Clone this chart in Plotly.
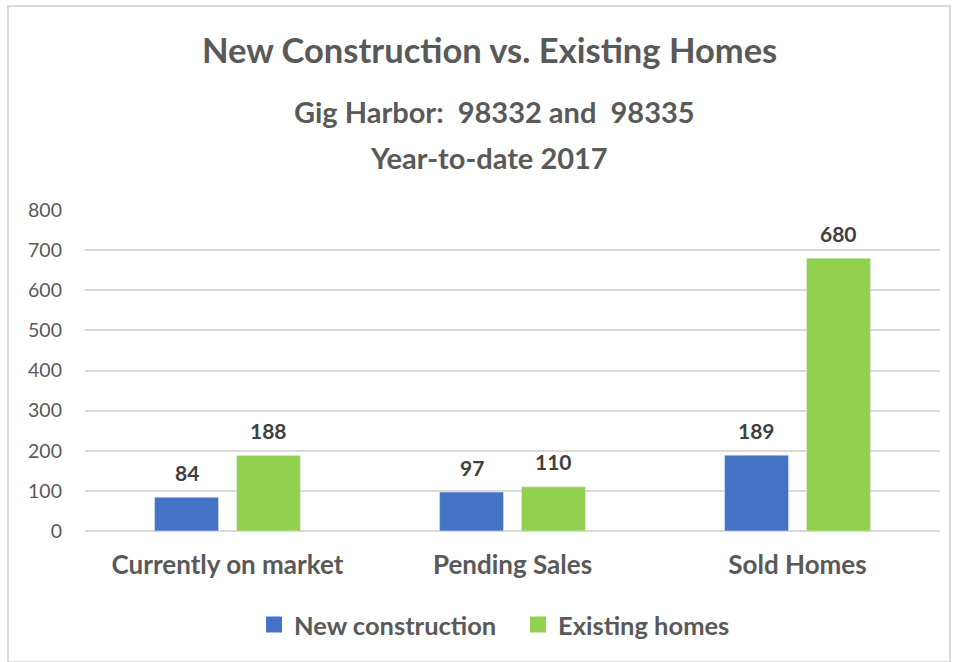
import plotly.graph_objects as go

categories = ["Currently on market", "Pending Sales", "Sold Homes"]
new_construction = [84, 97, 189]
existing_homes = [188, 110, 680]
series_names = ["New construction", "Existing homes"]
series_colors = ["#4472C4", "#92D050"]
y_ticks = [0, 100, 200, 300, 400, 500, 600, 700, 800]

FONT = "Lato, Carlito, Calibri, sans-serif"
W, H = 954, 662
L, R, T, B = 85, 940, 210, 531

fig = go.Figure()
series_values = [new_construction, existing_homes]
for name, vals, col in zip(series_names, series_values, series_colors):
    fig.add_trace(go.Bar(name=name, x=categories, y=vals,
                         marker=dict(color=col), showlegend=False))
    # legend-only entry with a larger square swatch
    fig.add_trace(go.Scatter(name=name, x=[None], y=[None], mode="markers",
                             marker=dict(symbol="square", size=17, color=col),
                             showlegend=True))

# data labels above bars (group offsets of +/- half a bar slot)
slot_half = 41
for vals, shift in zip(series_values, [-slot_half, slot_half]):
    for c, v in zip(categories, vals):
        fig.add_annotation(x=c, y=v, xref="x", yref="y", text=f"<b>{v}</b>",
                           showarrow=False, xshift=shift, yshift=25, yanchor="middle",
                           font=dict(family=FONT, size=21, color="#404040"))

def px2x(px):
    return (px - L) / (R - L)

def py2y(py):
    return (B - py) / (B - T)

titles = [("<b>New Construction vs. Existing Homes</b>", 489, 50, 34.5),
          ("<b>Gig Harbor:  98332 and  98335</b>", 494, 112, 29),
          ("<b>Year-to-date 2017</b>", 489, 157, 29)]
for txt, xp, yp, sz in titles:
    fig.add_annotation(text=txt, x=px2x(xp), y=py2y(yp), xref="paper", yref="paper",
                       showarrow=False, yanchor="middle",
                       font=dict(family=FONT, size=sz, color="#595959"))

fig.update_layout(
    width=W, height=H,
    margin=dict(l=L, r=W - R, t=T, b=H - B, autoexpand=False),
    paper_bgcolor="white", plot_bgcolor="white",
    barmode="group", bargap=0.425, bargroupgap=0.22,
    font=dict(family=FONT, color="#595959"),
    showlegend=True,
    legend=dict(orientation="h", x=px2x(518), xanchor="center", y=py2y(625), yanchor="middle",
                font=dict(family=FONT, size=25.5, color="#595959", weight="bold"),
                itemsizing="trace", traceorder="normal", itemwidth=30,
                entrywidth=219, entrywidthmode="pixels"),
    xaxis=dict(tickfont=dict(family=FONT, size=26, color="#595959", weight="bold"),
               ticks="", showline=False, ticklabelstandoff=16),
    yaxis=dict(range=[0, 800], tickvals=y_ticks, showgrid=True, gridcolor="#D9D9D9",
               gridwidth=1.5, zeroline=True, zerolinecolor="#D9D9D9", zerolinewidth=1.5,
               tickfont=dict(family=FONT, size=19.5, color="#595959"), ticks="",
               ticklabelstandoff=22),
    shapes=[
        dict(type="rect", xref="paper", yref="paper",
             x0=px2x(8), x1=px2x(950), y0=py2y(662), y1=py2y(6),
             line=dict(color="#D9D9D9", width=2), fillcolor="rgba(0,0,0,0)", layer="below"),
    ],
)

fig.write_html("out.html", config={"displayModeBar": False},
               post_script="document.body.style.margin='0';document.body.style.overflow='hidden';")
